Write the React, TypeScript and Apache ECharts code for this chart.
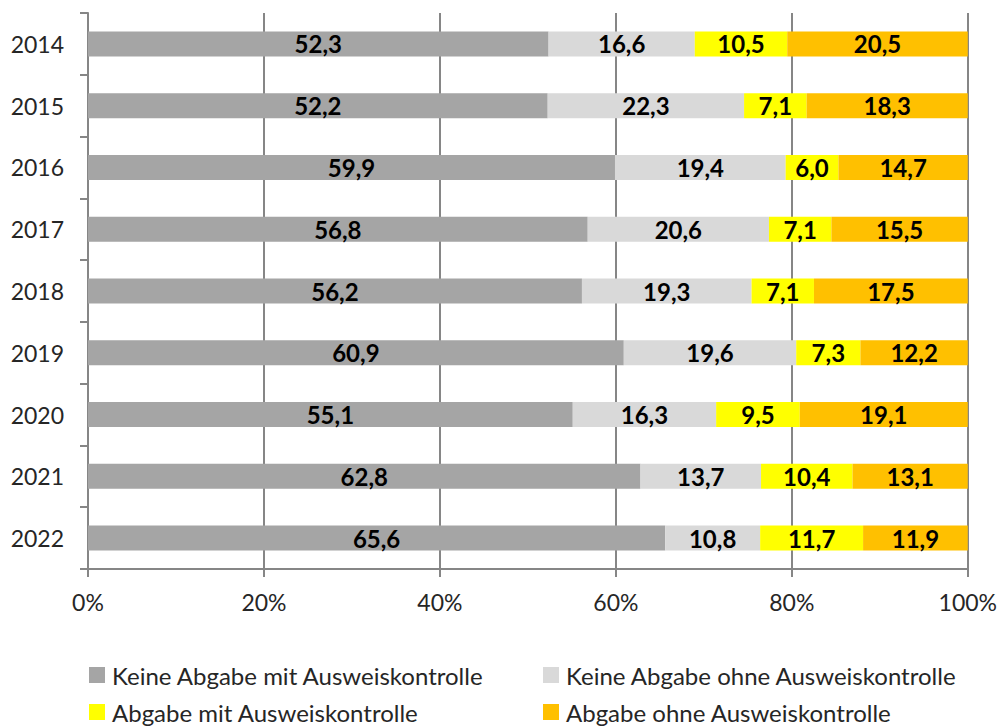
import React, { useEffect, useRef } from "react";
import * as echarts from "echarts";

const years = ["2014", "2015", "2016", "2017", "2018", "2019", "2020", "2021", "2022"];
const seriesNames = [
  "Keine Abgabe mit Ausweiskontrolle",
  "Keine Abgabe ohne Ausweiskontrolle",
  "Abgabe mit Ausweiskontrolle",
  "Abgabe ohne Ausweiskontrolle",
];
const keineMit = [52.3, 52.2, 59.9, 56.8, 56.2, 60.9, 55.1, 62.8, 65.6];
const keineOhne = [16.6, 22.3, 19.4, 20.6, 19.3, 19.6, 16.3, 13.7, 10.8];
const abgabeMit = [10.5, 7.1, 6.0, 7.1, 7.1, 7.3, 9.5, 10.4, 11.7];
const abgabeOhne = [20.5, 18.3, 14.7, 15.5, 17.5, 12.2, 19.1, 13.1, 11.9];
const colors = ["#A5A5A5", "#D9D9D9", "#FFFF00", "#FFC000"];
const xTicks = [0, 20, 40, 60, 80, 100];

const FONT = "Lato, 'Open Sans', sans-serif";

export default function App() {
  const ref = useRef<HTMLDivElement>(null);
  useEffect(() => {
    if (!ref.current) return;
    const chart = echarts.init(ref.current, undefined, { renderer: "svg" });
    const all = [keineMit, keineOhne, abgabeMit, abgabeOhne];
    const sums = years.map((_, i) => all.reduce((s, arr) => s + arr[i], 0));
    const series = all.map((arr, k) => ({
      name: seriesNames[k],
      type: "bar",
      stack: "total",
      barWidth: 25,
      itemStyle: { color: colors[k] },
      data: arr.map((v, i) => ({ value: (v / sums[i]) * 100, raw: v })),
      label: {
        show: true,
        position: "inside",
        color: "#000",
        fontFamily: FONT,
        fontWeight: "bold",
        fontSize: 24,
        formatter: (p: any) => p.data.raw.toFixed(1).replace(".", ","),
      },
    }));
    const legendPos = [
      { left: 89, top: 663 },
      { left: 543, top: 663 },
      { left: 89, top: 700 },
      { left: 543, top: 700 },
    ];
    chart.setOption({
      animation: false,
      backgroundColor: "#fff",
      grid: { left: 88, right: 31, top: 13, bottom: 158 },
      xAxis: {
        type: "value",
        min: 0,
        max: 100,
        interval: 20,
        axisLine: { show: true, lineStyle: { color: "#868686", width: 2 } },
        axisTick: { show: true, length: 8, lineStyle: { color: "#868686", width: 2 } },
        splitLine: { show: true, lineStyle: { color: "#868686", width: 2 } },
        axisLabel: {
          margin: 21,
          color: "#262626",
          fontFamily: FONT,
          fontSize: 23,
          formatter: (v: number) => (xTicks.includes(v) ? v + "%" : ""),
        },
      },
      yAxis: {
        type: "category",
        inverse: true,
        data: years,
        axisLine: { show: true, lineStyle: { color: "#868686", width: 2 } },
        axisTick: { show: true, length: 8, lineStyle: { color: "#868686", width: 2 } },
        axisLabel: { margin: 24, color: "#262626", fontFamily: FONT, fontSize: 23 },
      },
      legend: seriesNames.map((n, k) => ({
        data: [n],
        left: legendPos[k].left,
        top: legendPos[k].top,
        padding: 0,
        itemWidth: 16,
        itemHeight: 16,
        itemGap: 0,
        icon: "rect",
        selectedMode: false,
        textStyle: { color: "#262626", fontFamily: FONT, fontSize: 24, padding: [0, 0, 0, 2] },
      })),
      series,
    });
    return () => chart.dispose();
  }, []);
  return (
    <div
      ref={ref}
      style={{ position: "fixed", left: 0, top: 0, width: 1000, height: 727 }}
    />
  );
}
